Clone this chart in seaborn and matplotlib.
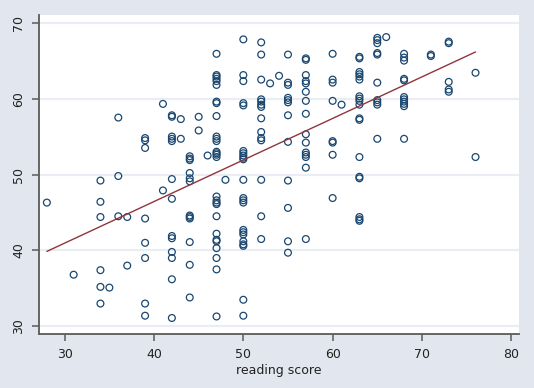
import matplotlib
matplotlib.use("Agg")
import matplotlib.pyplot as plt
import seaborn as sns
import pandas as pd

# reading score (x) and writing score (y), grouped by reading score
read = (
    [28] + [31] + [34] * 6 + [35] + [36] * 3 + [37] * 2 + [39] * 8 + [41] * 2
    + [42] * 13 + [43] * 2 + [44] * 12 + [45] * 2 + [46] + [47] * 28 + [48]
    + [50] * 22 + [52] * 14 + [53] + [54] + [55] * 12 + [57] * 15 + [60] * 8
    + [61] + [63] * 18 + [65] * 10 + [66] + [68] * 11 + [71] * 2 + [73] * 5 + [76] * 2
)
write = (
    [46.3]
    + [36.8]
    + [49.2, 46.4, 44.4, 37.4, 35.2, 33.0]
    + [35.1]
    + [57.5, 49.8, 44.5]
    + [44.4, 38.0]
    + [54.8, 54.5, 53.5, 44.2, 41.0, 39.0, 33.0, 31.4]
    + [59.3, 47.9]
    + [57.8, 57.6, 55.0, 54.7, 54.4, 49.4, 46.8, 41.9, 41.6, 39.8, 39.0, 36.2, 31.1]
    + [57.3, 54.7]
    + [52.4, 52.1, 51.9, 50.2, 49.5, 49.1, 44.6, 44.4, 44.2, 41.1, 38.1, 33.8]
    + [57.6, 55.8]
    + [52.5]
    + [65.9, 63.1, 62.9, 62.6, 62.3, 61.8, 59.6, 59.4, 57.7, 55.0, 54.7, 54.4, 53.0, 52.8,
       52.6, 52.3, 47.1, 46.6, 46.3, 46.1, 44.5, 42.2, 41.4, 41.2, 40.3, 39.0, 37.5, 31.3]
    + [49.3]
    + [67.8, 63.1, 62.3, 59.4, 59.1, 53.1, 52.8, 52.5, 52.2, 52.0, 49.3, 46.9, 46.6, 46.3,
       42.7, 42.4, 42.1, 41.2, 40.8, 40.6, 33.5, 31.4]
    + [67.4, 65.8, 62.5, 59.9, 59.6, 59.2, 58.9, 57.4, 55.6, 54.8, 54.5, 49.3, 44.5, 41.5]
    + [62.0]
    + [63.0]
    + [65.8, 62.1, 61.8, 60.1, 59.8, 59.5, 57.8, 54.3, 49.2, 45.6, 41.2, 39.7]
    + [65.3, 65.1, 63.1, 62.3, 62.0, 60.9, 59.7, 58.0, 55.3, 54.2, 52.9, 52.6, 52.3, 50.9, 41.5]
    + [65.9, 62.5, 62.1, 59.7, 54.4, 54.2, 52.6, 46.9]
    + [59.2]
    + [65.5, 65.3, 63.5, 63.2, 62.9, 62.5, 60.3, 60.0, 59.7, 59.2, 57.4, 57.2, 52.3, 49.7,
       49.5, 44.4, 44.1, 43.9]
    + [68.0, 67.7, 67.3, 66.0, 65.8, 62.1, 59.8, 59.5, 59.2, 54.7]
    + [68.1]
    + [65.9, 65.4, 65.0, 62.6, 62.4, 60.2, 59.9, 59.6, 59.3, 59.0, 54.7]
    + [65.8, 65.6]
    + [67.5, 67.3, 62.2, 61.2, 60.9]
    + [63.4, 52.3]
)
x_ticks = [30, 40, 50, 60, 70, 80]
y_ticks = [30, 40, 50, 60, 70]
x_label = "reading score"

df = pd.DataFrame({"read": read, "write": write})

sns.set_theme(style="white")
plt.rcParams["font.family"] = ["DejaVu Sans"]

BG = "#e1e6ef"
NAVY = "#1a476f"
MAROON = "#90353b"
AXC = "#5a5a5a"

fig = plt.figure(figsize=(5.34, 3.88), dpi=100, facecolor=BG)
ax = fig.add_axes([39 / 534, 1 - 334 / 388, (519 - 39) / 534, (334 - 15) / 388])
ax.set_facecolor("white")

ax.set_xlim(27.12, 80.87)
ax.set_ylim(28.99, 71.01)

for yv in y_ticks:
    ax.axhline(yv, color="#eaeef4", lw=1.6, zorder=0)

sns.scatterplot(data=df, x="read", y="write", ax=ax, marker="o",
                facecolors="none", edgecolor=NAVY, linewidth=0.9, s=24,
                legend=False, zorder=3)
sns.regplot(data=df, x="read", y="write", ax=ax, scatter=False, ci=None,
            truncate=True, line_kws={"color": MAROON, "lw": 1.0, "zorder": 4})

ax.set_xticks(x_ticks)
ax.set_yticks(y_ticks)
ax.set_xticklabels([str(v) for v in x_ticks])
ax.set_yticklabels([str(v) for v in y_ticks], rotation=90, va="center")
ax.tick_params(axis="both", direction="out", length=5, width=1.1, color=AXC,
               labelsize=9, labelcolor="#222222", pad=5)
ax.tick_params(axis="x", bottom=True)
ax.tick_params(axis="y", left=True)

for side in ["top", "right"]:
    ax.spines[side].set_visible(False)
for side in ["left", "bottom"]:
    ax.spines[side].set_visible(True)
    ax.spines[side].set_color(AXC)
    ax.spines[side].set_linewidth(1.3)

ax.set_xlabel(x_label, fontsize=9, color="#222222", labelpad=2)
ax.set_ylabel("")
ax.grid(False)

fig.savefig("out.png", dpi=100, facecolor=BG)
